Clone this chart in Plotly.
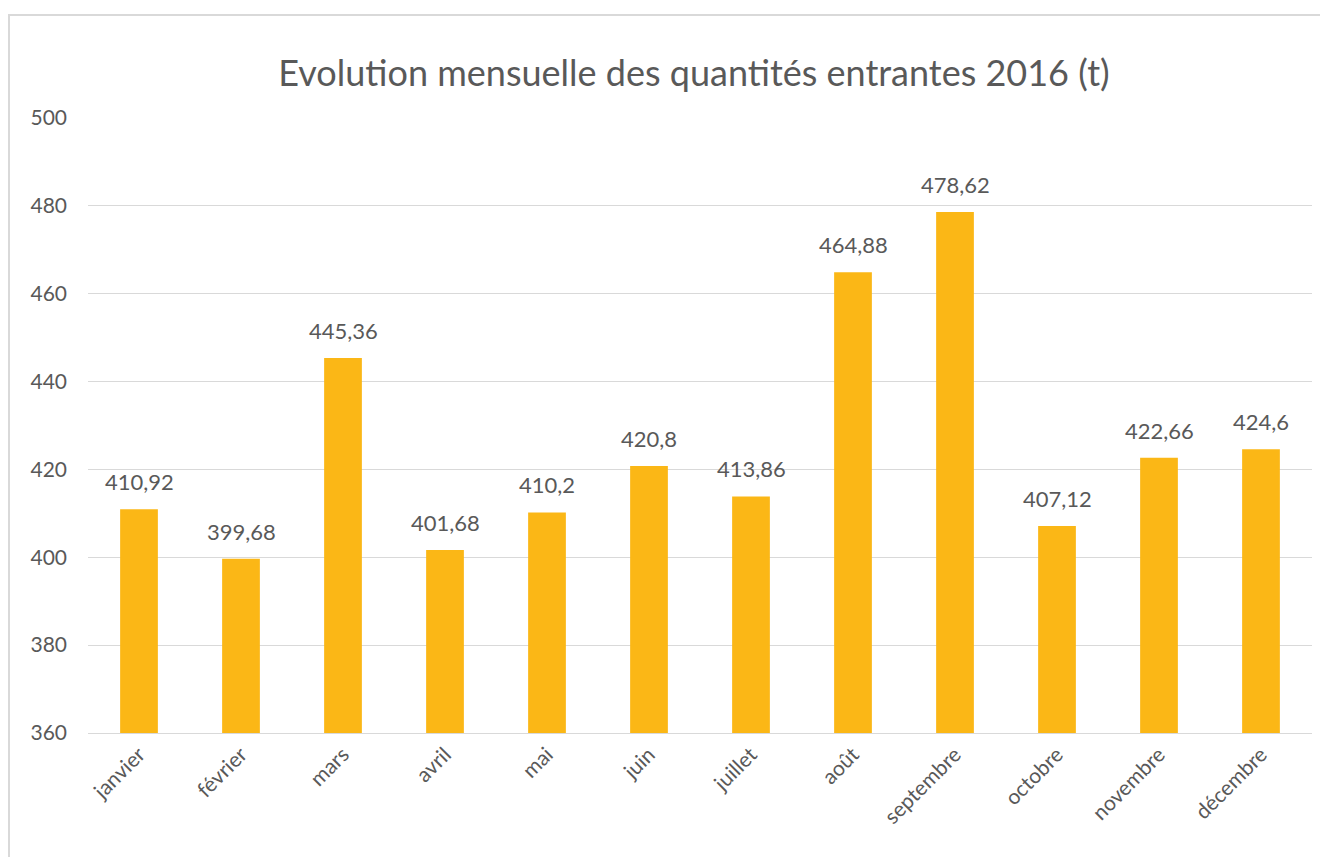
import plotly.graph_objects as go

months = ["janvier", "février", "mars", "avril", "mai", "juin", "juillet",
          "août", "septembre", "octobre", "novembre", "décembre"]
values = [410.92, 399.68, 445.36, 401.68, 410.2, 420.8, 413.86,
          464.88, 478.62, 407.12, 422.66, 424.6]
labels = [str(v).replace(".", ",") for v in values]
y_ticks = [360, 380, 400, 420, 440, 460, 480, 500]
BASE = 360

FONT = "Lato"
GREY = "#595959"

fig = go.Figure()
fig.add_trace(go.Bar(
    x=months, y=[v - BASE for v in values], base=BASE,
    marker=dict(color="#FBB716", line=dict(width=0)),
    width=0.37, hoverinfo="x+y",
))

for m, v, t in zip(months, values, labels):
    fig.add_annotation(x=m, y=v, text=t, showarrow=False, yanchor="bottom",
                       yshift=12, font=dict(family=FONT, size=22, color=GREY))

# page has an 8px body margin: figure is 1320x849
fig.update_layout(
    width=1320, height=849,
    margin=dict(l=80, r=16, t=110, b=124),
    paper_bgcolor="white", plot_bgcolor="white",
    showlegend=False,
    title=dict(text="Evolution mensuelle des quantités entrantes 2016 (t)",
               x=686 / 1320, xanchor="center", y=1 - 65 / 849, yanchor="middle",
               font=dict(family=FONT, size=36, color=GREY)),
    xaxis=dict(tickangle=-45, tickfont=dict(family=FONT, size=21, color=GREY),
               showgrid=False, showline=True, linecolor="#D9D9D9", linewidth=1,
               ticks=""),
    yaxis=dict(range=[360, 500], tickvals=y_ticks,
               tickfont=dict(family=FONT, size=21, color=GREY),
               gridcolor="#D9D9D9", gridwidth=1, zeroline=False,
               showline=False, ticks="", ticklabelstandoff=20),
    shapes=[dict(type="rect", xref="paper", yref="paper",
                 x0=(1 - 80) / 1224, x1=1.2, y0=-0.5, y1=(725 - 7) / 615,
                 line=dict(color="#D9D9D9", width=2), fillcolor="rgba(0,0,0,0)",
                 layer="below")],
)
fig.write_html("out.html")
